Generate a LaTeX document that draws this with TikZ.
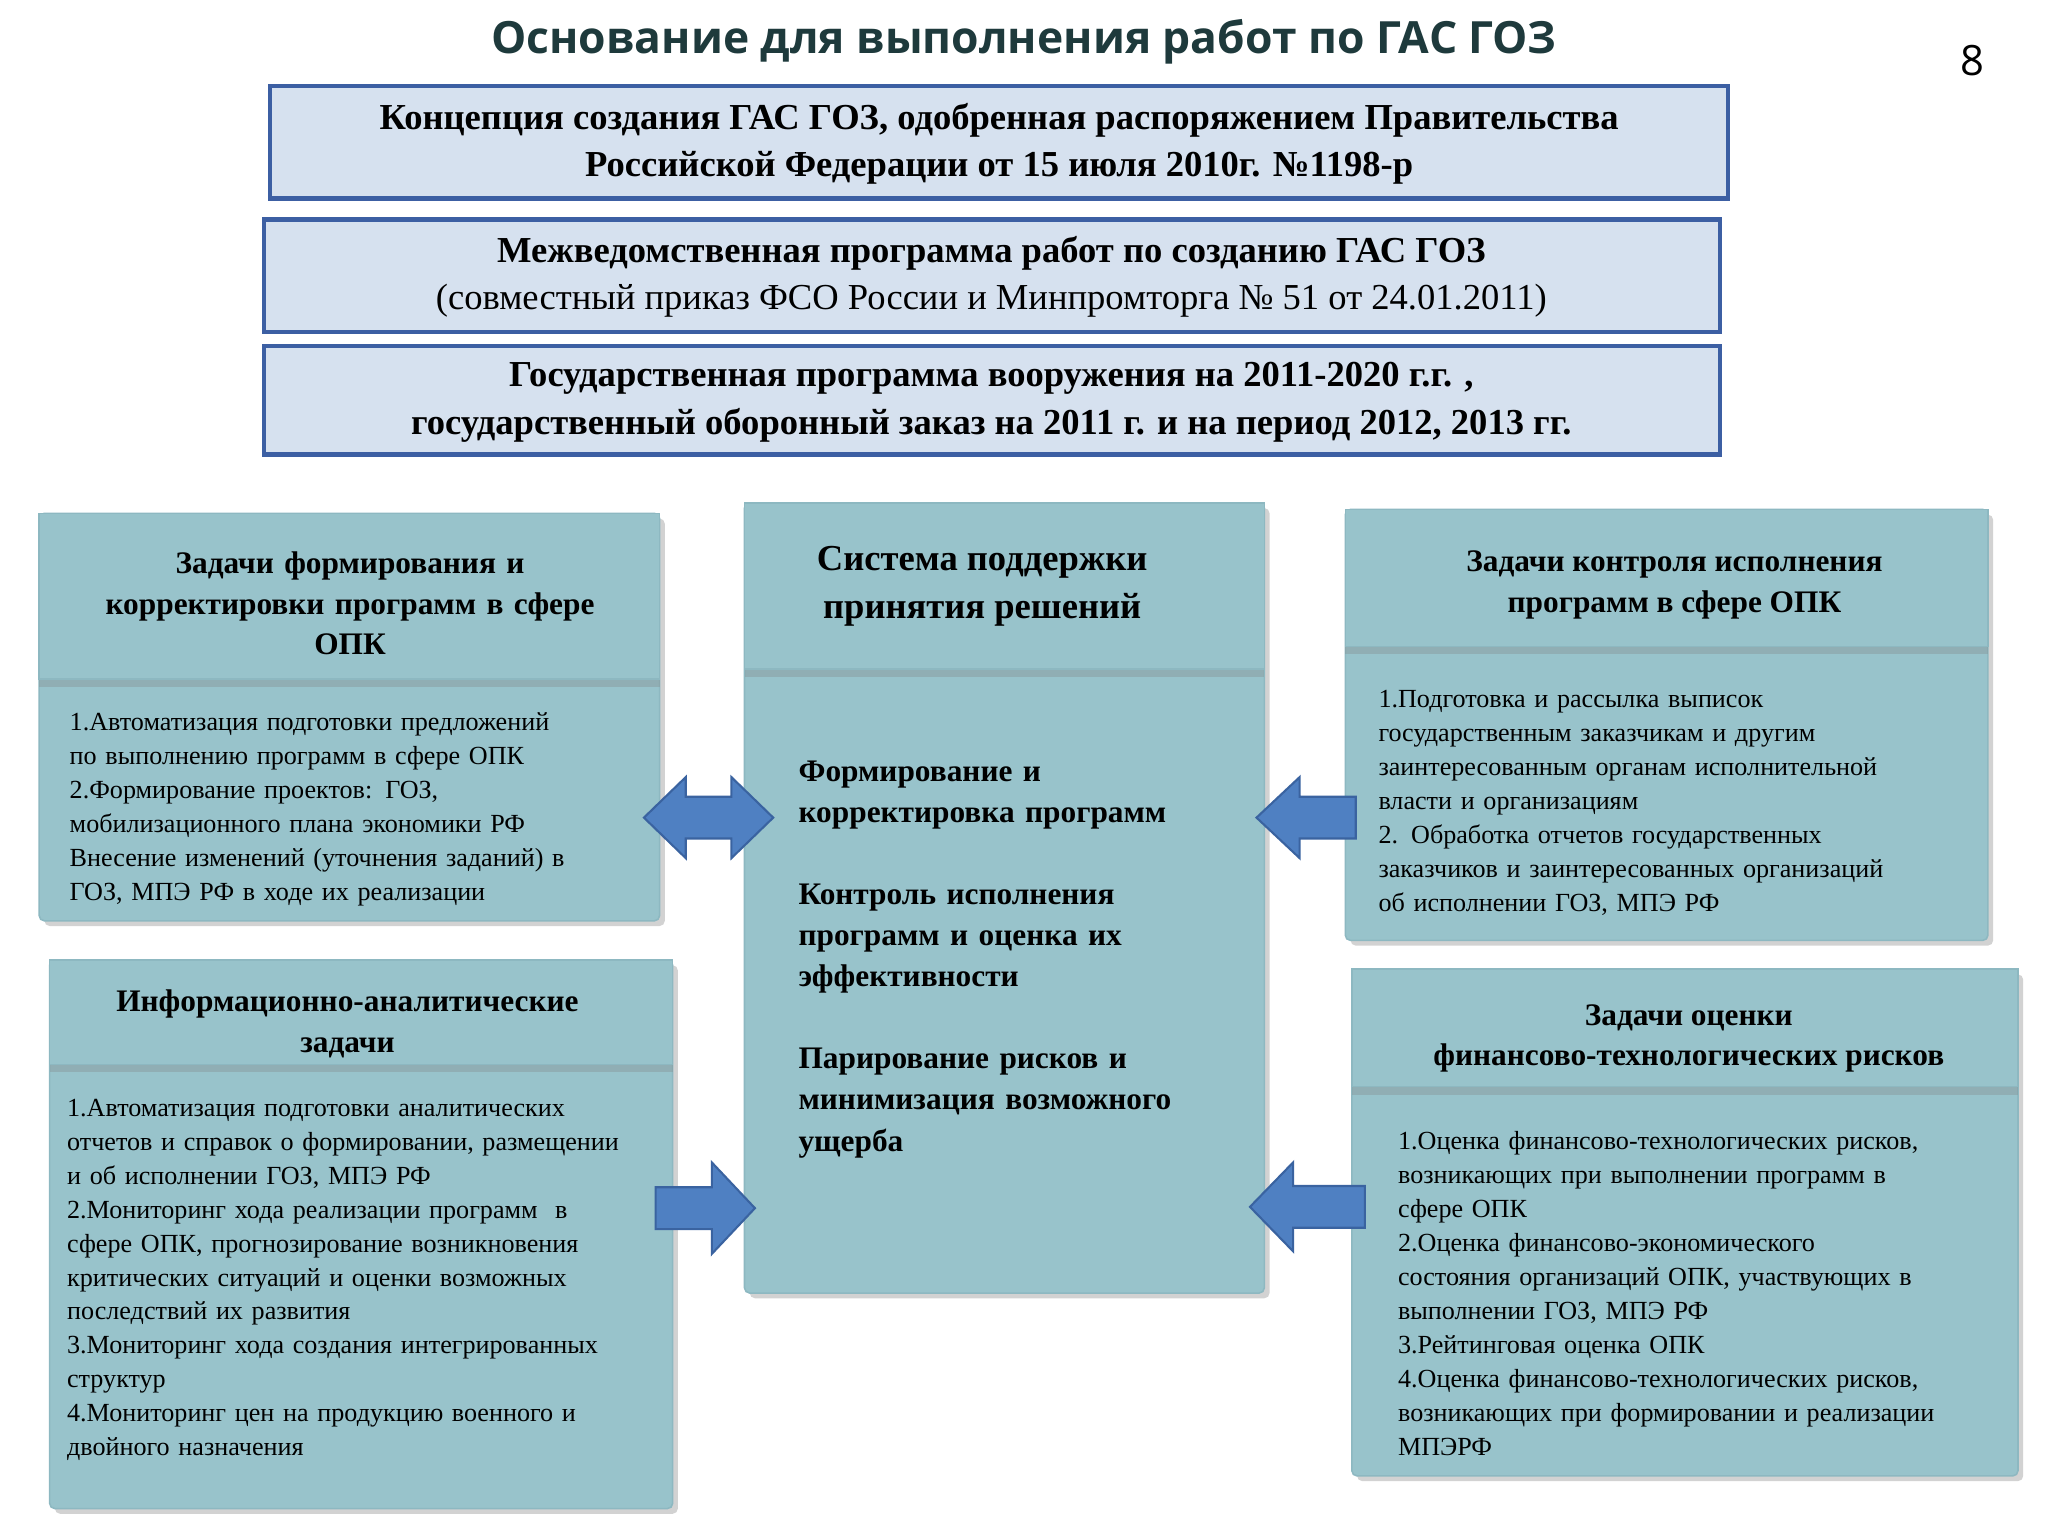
\documentclass[tikz,border=0pt]{standalone}
\usepackage{fontspec}
\setmainfont{Liberation Serif}
\newfontfamily\titlefont{Open Sans}
\usetikzlibrary{shadows}
\definecolor{bxfill}{HTML}{D6E1EF}
\definecolor{bxline}{HTML}{3C5FA3}
\definecolor{teal}{HTML}{98C3CB}
\definecolor{tealdark}{HTML}{8DB8C1}
\definecolor{arr}{HTML}{4F80C2}
\definecolor{arrline}{HTML}{3A63A0}
\definecolor{ttl}{HTML}{1E3A3C}
\tikzset{
 topbox/.style={draw=bxline,line width=1.6pt,fill=bxfill},
 panel/.style={fill=teal,draw=tealdark,line width=0.6pt,rounded corners=2pt,drop shadow={shadow xshift=2pt,shadow yshift=-2pt,opacity=0.35}},
 head/.style={fill=teal,draw=tealdark,line width=0.6pt,drop shadow={shadow xshift=0pt,shadow yshift=-3pt,opacity=0.3}},
 bt/.style={align=left,anchor=north west,font=\fontsize{10}{13}\selectfont,inner sep=0pt},
 ht/.style={align=center,font=\bfseries\fontsize{12}{15.5}\selectfont,inner sep=0pt},
 arrow/.style={fill=arr,draw=arrline,line width=0.8pt}
}
\begin{document}
\begin{tikzpicture}[x=0.5pt,y=-0.5pt]
\useasboundingbox[fill=white] (0,0) rectangle (1568,1176);
\node[font=\titlefont\bfseries\fontsize{17}{20}\selectfont,text=ttl] (title) at (784,32) {Основание для выполнения работ по ГАС ГОЗ};
\node[font=\titlefont\fontsize{16}{18}\selectfont] (pg) at (1510,46) {8};
% top boxes
\draw[topbox] (207,66) rectangle (1323,152);
\node[font=\bfseries\fontsize{14}{18}\selectfont,align=center] (b1) at (765,110) {Концепция создания ГАС ГОЗ, одобренная распоряжением Правительства\\Российской Федерации от 15 июля 2010г. №1198-р};
\draw[topbox] (202,168) rectangle (1317,254);
\node[font=\fontsize{14}{18}\selectfont,align=center] (b2) at (759,212) {\textbf{Межведомственная программа работ по созданию ГАС ГОЗ}\\(совместный приказ ФСО России и Минпромторга № 51 от 24.01.2011)};
\draw[topbox] (202,265) rectangle (1317,348);
\node[font=\bfseries\fontsize{14}{18}\selectfont,align=center] (b3) at (759,308) {Государственная программа вооружения на 2011-2020 г.г. ,\\государственный оборонный заказ на 2011 г. и на период 2012, 2013 гг.};
% left top panel
\draw[panel] (30,393) rectangle (505,705);
\draw[head] (30,393) rectangle (505,520);
\node[ht,text width=215pt] (lth) at (268,462) {Задачи формирования и\\корректировки программ в сфере\\ОПК};
\node[bt,text width=240pt] (ltb) at (53,545) {1.Автоматизация подготовки предложений\\по выполнению программ в сфере ОПК\\2.Формирование проектов: ГОЗ,\\мобилизационного плана экономики РФ\\Внесение изменений (уточнения заданий) в\\ГОЗ, МПЭ РФ в ходе их реализации};
% center panel
\draw[panel] (570,385) rectangle (968,990);
\draw[head] (570,385) rectangle (968,512);
\node[align=center,font=\bfseries\fontsize{14}{18.5}\selectfont,inner sep=0pt] (ch) at (752,449) {Система поддержки\\принятия решений};
\node[bt,font=\bfseries\fontsize{12}{15.8}\selectfont,text width=180pt] (cb) at (611,582) {Формирование и\\корректировка программ\\[15.5pt]Контроль исполнения\\программ и оценка их\\эффективности\\[15.5pt]Парирование рисков и\\минимизация возможного\\ущерба};
% right top panel
\draw[panel] (1030,390) rectangle (1522,720);
\draw[head] (1030,390) rectangle (1522,495);
\node[ht] (rth) at (1282,448) {Задачи контроля исполнения\\программ в сфере ОПК};
\node[bt,text width=240pt] (rtb) at (1055,528) {1.Подготовка и рассылка выписок\\государственным заказчикам и другим\\заинтересованным органам исполнительной\\власти и организациям\\2. Обработка отчетов государственных\\заказчиков и заинтересованных организаций\\об исполнении ГОЗ, МПЭ РФ};
% left bottom panel
\draw[panel] (38,735) rectangle (515,1155);
\draw[head] (38,735) rectangle (515,815);
\node[ht] (lbh) at (266,784) {Информационно-аналитические\\задачи};
\node[bt,text width=240pt] (lbb) at (51,841) {1.Автоматизация подготовки аналитических\\отчетов и справок о формировании, размещении\\и об исполнении ГОЗ, МПЭ РФ\\2.Мониторинг хода реализации программ \ в\\сфере ОПК, прогнозирование возникновения\\критических ситуаций и оценки возможных\\последствий их развития\\3.Мониторинг хода создания интегрированных\\структур\\4.Мониторинг цен на продукцию военного и\\двойного назначения};
% right bottom panel
\draw[panel] (1035,742) rectangle (1545,1130);
\draw[head] (1035,742) rectangle (1545,832);
\node[ht] (rbh) at (1293,795) {Задачи оценки\\финансово-технологических рисков};
\node[bt,text width=240pt] (rbb) at (1070,866) {1.Оценка финансово-технологических рисков,\\возникающих при выполнении программ в\\сфере ОПК\\2.Оценка финансово-экономического\\состояния организаций ОПК, участвующих в\\выполнении ГОЗ, МПЭ РФ\\3.Рейтинговая оценка ОПК\\4.Оценка финансово-технологических рисков,\\возникающих при формировании и реализации\\МПЭРФ};
% arrows
\draw[arrow] (493,626) -- (525,595) -- (525,610) -- (560,610) -- (560,595) -- (592,626) -- (560,657) -- (560,642) -- (525,642) -- (525,657) -- cycle;
\draw[arrow] (962,626) -- (995,595) -- (995,610) -- (1038,610) -- (1038,642) -- (995,642) -- (995,657) -- cycle;
\draw[arrow] (578,925) -- (545,890) -- (545,909) -- (502,909) -- (502,941) -- (545,941) -- (545,960) -- cycle;
\draw[arrow] (957,924) -- (990,890) -- (990,908) -- (1045,908) -- (1045,940) -- (990,940) -- (990,958) -- cycle;
\end{tikzpicture}
\end{document}
